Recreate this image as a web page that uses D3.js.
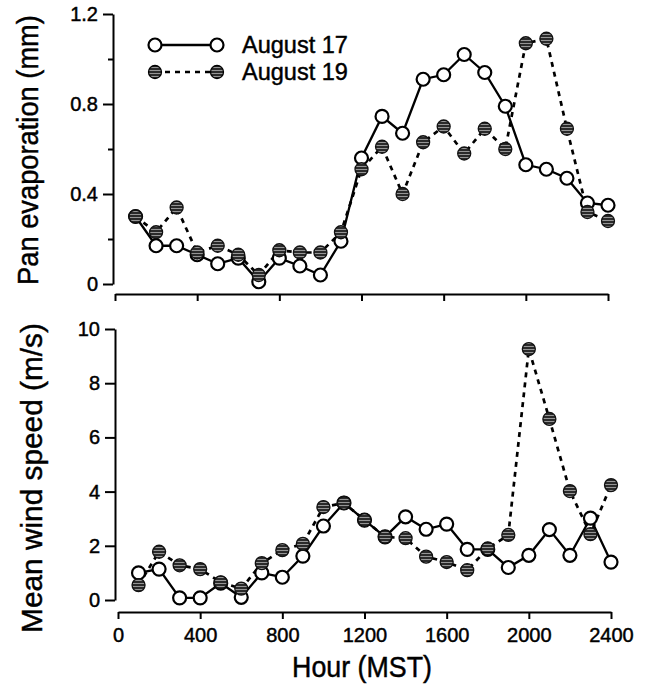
<!DOCTYPE html>
<html>
<head>
<meta charset="utf-8">
<script src="https://cdn.jsdelivr.net/npm/d3@7"></script>
<style>
  body { margin: 0; background: #fff; }
  svg text { font-family: "Liberation Sans", Arial, sans-serif; fill: #000; stroke: #000; stroke-width: 0.45px; }
</style>
</head>
<body>
<div id="chart"></div>
<script>
// hours of the day (MST)
var hours = [100, 200, 300, 400, 500, 600, 700, 800, 900, 1000, 1100, 1200,
             1300, 1400, 1500, 1600, 1700, 1800, 1900, 2000, 2100, 2200, 2300, 2400];

// pan evaporation (mm)
var evapAug17 = [0.30, 0.17, 0.17, 0.13, 0.09, 0.115, 0.01, 0.115, 0.08, 0.04, 0.19, 0.56,
                 0.745, 0.67, 0.91, 0.93, 1.02, 0.94, 0.79, 0.53, 0.51, 0.47, 0.36, 0.35];
var evapAug19 = [0.30, 0.23, 0.34, 0.14, 0.17, 0.13, 0.04, 0.15, 0.14, 0.14, 0.23, 0.51,
                 0.61, 0.40, 0.63, 0.70, 0.58, 0.69, 0.60, 1.07, 1.09, 0.69, 0.32, 0.28];

// mean wind speed (m/s)
var windAug17 = [1.0, 1.14, 0.08, 0.08, 0.62, 0.1, 1.0, 0.84, 1.62, 2.73, 3.58, 2.95,
                 2.33, 3.07, 2.61, 2.8, 1.87, 1.87, 1.2, 1.65, 2.6, 1.65, 3.02, 1.4];
var windAug19 = [0.55, 1.78, 1.28, 1.14, 0.65, 0.42, 1.36, 1.84, 2.07, 3.43, 3.58, 2.95,
                 2.33, 2.28, 1.6, 1.4, 1.1, 1.9, 2.4, 9.26, 6.68, 4.02, 2.43, 4.24];

var xTicks = [0, 400, 800, 1200, 1600, 2000, 2400];
var evapTicks = [0, 0.4, 0.8, 1.2];
var evapMinor = [0.2, 0.6, 1.0];
var windTicks = [0, 2, 4, 6, 8, 10];
var seriesNames = ["August 17", "August 19"];

var width = 647, height = 684;

var svg = d3.select("#chart").append("svg")
            .attr("width", width)
            .attr("height", height);

// halftone-ish fill for the dark markers
var pat = svg.append("defs").append("pattern")
    .attr("id", "stripes")
    .attr("patternUnits", "userSpaceOnUse")
    .attr("width", 6).attr("height", 3);
pat.append("rect").attr("width", 6).attr("height", 3).attr("fill", "#2a2a2a");
pat.append("rect").attr("y", 1).attr("width", 6).attr("height", 1).attr("fill", "#959595");

// squeeze a text to a given length (the scanned lettering is narrow)
function squeeze(sel, len) {
  var w = sel.node().getComputedTextLength();
  return len / w;
}

var panels = [
  { a: evapAug17, b: evapAug19, domain: [0, 1.2], top: 14, bottom: 284, axisX: 113,
    xLeft: 115, xRight: 608, xAxisY: 294, ticks: evapTicks, minor: evapMinor,
    fmt: d => d === 0 ? "0" : d3.format(".1f")(d), showX: false,
    title: "Pan evaporation (mm)", titleX: 38, titleY: 150, titleLen: 270 },
  { a: windAug17, b: windAug19, domain: [0, 10], top: 329, bottom: 600, axisX: 115,
    xLeft: 118, xRight: 611, xAxisY: 612, ticks: windTicks, minor: [],
    fmt: d3.format("d"), showX: true,
    title: "Mean wind speed (m/s)", titleX: 42, titleY: 478, titleLen: 310 }
];

panels.forEach(function(p) {
  var x = d3.scaleLinear().domain([0, 2400]).range([p.xLeft, p.xRight]);
  var y = d3.scaleLinear().domain(p.domain).range([p.bottom, p.top]);

  // y axis
  svg.append("g")
      .attr("transform", "translate(" + p.axisX + ",0)")
      .call(d3.axisLeft(y).tickValues(p.ticks).tickSize(10).tickSizeOuter(0)
              .tickPadding(5).tickFormat(p.fmt));
  if (p.minor.length) {
    svg.append("g")
        .attr("transform", "translate(" + p.axisX + ",0)")
        .call(d3.axisLeft(y).tickValues(p.minor).tickSize(5).tickSizeOuter(0).tickFormat(""))
        .select(".domain").remove();
  }

  // x axis
  svg.append("g")
      .attr("transform", "translate(0," + p.xAxisY + ")")
      .call(d3.axisBottom(x).tickValues(xTicks).tickSize(7).tickSizeOuter(0)
              .tickPadding(9).tickFormat(p.showX ? d3.format("d") : ""));

  svg.selectAll(".domain, .tick line").attr("stroke", "#000").attr("stroke-width", 2);
  svg.selectAll(".tick text").attr("font-size", 20)
     .attr("font-family", "Liberation Sans, Arial, sans-serif");

  // y title
  var t = svg.append("text")
      .attr("text-anchor", "middle")
      .attr("font-size", 30)
      .text(p.title);
  t.attr("transform", "translate(" + p.titleX + "," + p.titleY + ") rotate(-90) scale(" +
         squeeze(t, p.titleLen) + ",1)");

  var line = d3.line()
      .x((d, i) => x(hours[i]))
      .y(d => y(d));

  svg.append("path").datum(p.a)
      .attr("d", line).attr("fill", "none")
      .attr("stroke", "#000").attr("stroke-width", 2.3);
  svg.append("path").datum(p.b)
      .attr("d", line).attr("fill", "none")
      .attr("stroke", "#000").attr("stroke-width", 2.7)
      .attr("stroke-dasharray", "5,5");

  svg.append("g").selectAll("circle")
      .data(p.a)
    .enter().append("circle")
      .attr("cx", (d, i) => x(hours[i]))
      .attr("cy", d => y(d))
      .attr("r", 6.5)
      .attr("fill", "#fff")
      .attr("stroke", "#000").attr("stroke-width", 2.2);

  svg.append("g").selectAll("circle")
      .data(p.b)
    .enter().append("circle")
      .attr("cx", (d, i) => x(hours[i]))
      .attr("cy", d => y(d))
      .attr("r", 6.5)
      .attr("fill", "url(#stripes)")
      .attr("stroke", "#111").attr("stroke-width", 1.3);
});

// x title
var xt = svg.append("text")
    .attr("text-anchor", "middle")
    .attr("font-size", 29)
    .text("Hour (MST)");
xt.attr("transform", "translate(362,677) scale(" + squeeze(xt, 140) + ",1)");

// legend
var legend = svg.append("g");
seriesNames.forEach(function(name, i) {
  var ly = 45 + i * 27;
  legend.append("line")
      .attr("x1", 155).attr("x2", 217).attr("y1", ly).attr("y2", ly)
      .attr("stroke", "#000")
      .attr("stroke-width", i === 0 ? 2.3 : 2.7)
      .attr("stroke-dasharray", i === 0 ? null : "5,5");
  [155, 217].forEach(function(cx) {
    legend.append("circle")
        .attr("cx", cx).attr("cy", ly).attr("r", 6.5)
        .attr("fill", i === 0 ? "#fff" : "url(#stripes)")
        .attr("stroke", "#000").attr("stroke-width", i === 0 ? 2.2 : 1.3);
  });
  var lt = legend.append("text")
      .attr("font-size", 24)
      .text(name);
  lt.attr("transform", "translate(242," + (ly + 8) + ") scale(" + squeeze(lt, 106) + ",1)");
});
</script>
</body>
</html>
